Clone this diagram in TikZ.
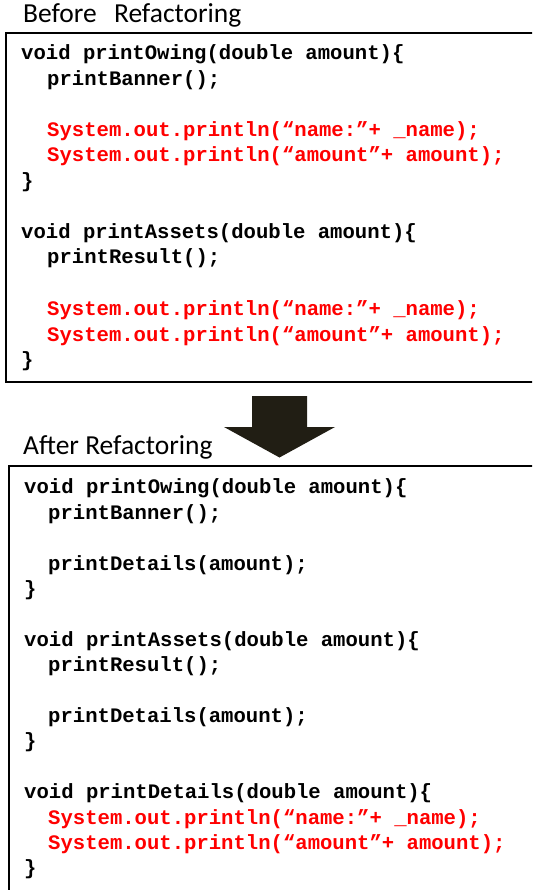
\documentclass[tikz,border=0pt]{standalone}
\usepackage{fontspec}
\setmainfont{Carlito}
\setmonofont{Liberation Mono}
\definecolor{arrowfill}{RGB}{33,30,20}
\definecolor{codered}{RGB}{255,0,0}
\begin{document}
\begin{tikzpicture}[x=1pt,y=-1pt,
  title/.style={anchor=base west,inner sep=0pt,font=\fontsize{27.5}{33}\selectfont},
  code/.style={anchor=base west,inner sep=0pt,font=\fontsize{20.6}{25}\selectfont\ttfamily\bfseries},
  hot/.style={code,text=codered},
  box/.style={draw=black,line width=1.6pt}]
\useasboundingbox (0,0) rectangle (532,890);
\clip (0,0) rectangle (532,890);
% titles
\node[title] (t1) at (23,23) {Before \hspace{11pt}Refactoring};
\node[title] (t2) at (23,454) {After Refactoring};
% boxes
\draw[box] (6,33) rectangle (560,382);
\draw[box,line width=1.4pt] (9,466) rectangle (560,920);
% arrow
\fill[arrowfill] (252,396) -- (307,396) -- (307,427) -- (335,427) -- (279.5,457.5) -- (224,427) -- (252,427) -- cycle;
% before code
\node[code] (a1) at (21,60) {void printOwing(double amount)\{};
\node[code] (a2) at (47,86) {printBanner();};
\node[hot] (a3) at (47,137) {System.out.println(“name:”+ \_name);};
\node[hot] (a4) at (47,162) {System.out.println(“amount”+ amount);};
\node[code] (a5) at (21,188) {\}};
\node[code] (a6) at (21,239) {void printAssets(double amount)\{};
\node[code] (a7) at (47,264) {printResult();};
\node[hot] (a8) at (47,315) {System.out.println(“name:”+ \_name);};
\node[hot] (a9) at (47,341) {System.out.println(“amount”+ amount);};
\node[code] (a10) at (21,366) {\}};
% after code
\node[code] (b1) at (24,493) {void printOwing(double amount)\{};
\node[code] (b2) at (48,519) {printBanner();};
\node[code] (b3) at (48,570) {printDetails(amount);};
\node[code] (b4) at (24,595) {\}};
\node[code] (b5) at (24,646) {void printAssets(double amount)\{};
\node[code] (b6) at (48,671) {printResult();};
\node[code] (b7) at (48,722) {printDetails(amount);};
\node[code] (b8) at (24,747) {\}};
\node[code] (b9) at (24,798) {void printDetails(double amount)\{};
\node[hot] (b10) at (48,824) {System.out.println(“name:”+ \_name);};
\node[hot] (b11) at (48,849) {System.out.println(“amount”+ amount);};
\node[code] (b12) at (24,874) {\}};
\end{tikzpicture}
\end{document}
